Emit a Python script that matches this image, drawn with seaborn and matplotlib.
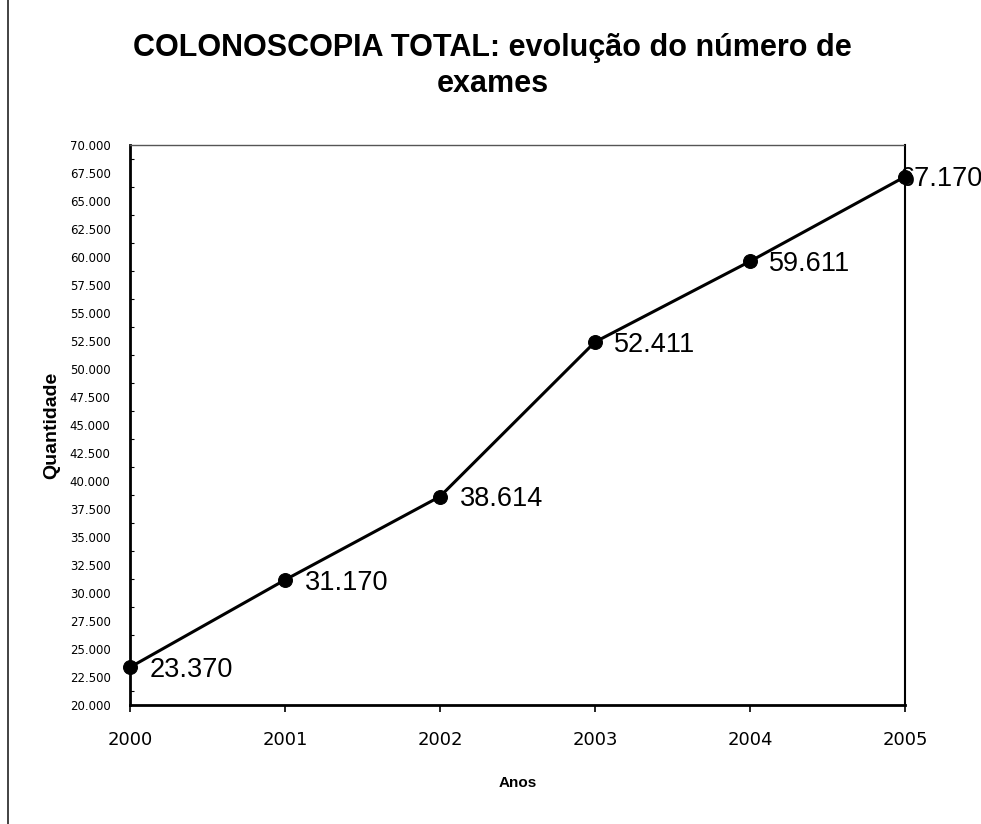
import numpy as np
import pandas as pd
import matplotlib
matplotlib.use("Agg")
import matplotlib.pyplot as plt
import seaborn as sns
from matplotlib.lines import Line2D
from matplotlib.ticker import FuncFormatter, MultipleLocator

# ── data ────────────────────────────────────
ANOS = [2000, 2001, 2002, 2003, 2004, 2005]
EXAMES = [23370, 31170, 38614, 52411, 59611, 67170]

TITULO = "COLONOSCOPIA TOTAL: evolução do número de\nexames"
X_LABEL = "Anos"
Y_LABEL = "Quantidade"


def pt_br(v):
    """23370 -> '23.370'"""
    return f"{int(v):,}".replace(",", ".")


df = pd.DataFrame({"ano": ANOS, "exames": EXAMES})

# ── style ───────────────────────────────────
sns.set_style("white")
plt.rcParams["font.family"] = ["Liberation Sans", "DejaVu Sans"]
plt.rcParams["text.color"] = "black"
plt.rcParams["axes.labelcolor"] = "black"
plt.rcParams["xtick.color"] = "black"
plt.rcParams["ytick.color"] = "black"

fig = plt.figure(figsize=(9.81, 8.24), dpi=100)
ax = fig.add_axes([0.1325, 0.1444, 0.79, 0.6796])

sns.lineplot(
    data=df, x="ano", y="exames", ax=ax,
    color="black", linewidth=2.2,
    marker="o", markersize=10, markeredgecolor="black",
    zorder=3, clip_on=False,
)

# data labels (the last one sits under its marker, as in the original)
for i, (x, y) in enumerate(zip(ANOS, EXAMES)):
    dx = 14 if i < len(ANOS) - 1 else -4
    ax.annotate(
        pt_br(y), (x, y), xytext=(dx, -2), textcoords="offset points",
        ha="left", va="center", fontsize=19.5, color="black",
        zorder=2, annotation_clip=False,
    )

ax.set_xlim(2000, 2005)
ax.set_ylim(20000, 70000)
ax.set_xticks(ANOS)
ax.xaxis.set_major_formatter(FuncFormatter(lambda v, _: f"{int(v)}"))
ax.yaxis.set_major_locator(MultipleLocator(2500))
ax.yaxis.set_minor_locator(MultipleLocator(1250))
ax.yaxis.set_major_formatter(FuncFormatter(lambda v, _: pt_br(v)))

for lbl in ax.get_xticklabels():
    lbl.set_family("DejaVu Sans")
    lbl.set_fontsize(13)
for lbl in ax.get_yticklabels():
    lbl.set_family("DejaVu Sans")
    lbl.set_fontsize(8.5)

ax.tick_params(axis="y", which="major", direction="inout", length=6, width=1.2, pad=11)
ax.tick_params(axis="y", which="minor", direction="in", length=3, width=0.8, left=True)
ax.tick_params(axis="x", which="major", direction="out", length=5, width=1.2, pad=14, bottom=True)

for side in ["left", "bottom"]:
    ax.spines[side].set_color("black")
    ax.spines[side].set_linewidth(2)
ax.spines["right"].set_color("black")
ax.spines["right"].set_linewidth(1.5)
ax.spines["top"].set_color("#555555")
ax.spines["top"].set_linewidth(1)
ax.spines["top"].set_linestyle((0, (2, 1)))

ax.set_xlabel(X_LABEL, fontsize=11, fontweight="bold", labelpad=19)
ax.set_ylabel(Y_LABEL, fontsize=14, fontweight="bold", labelpad=7)

fig.text(0.502, 0.96, TITULO, ha="center", va="top", fontsize=22,
         fontweight="bold", linespacing=1.25)

# scanned page edge on the left
fig.add_artist(Line2D([8 / 981, 8 / 981], [0, 1], transform=fig.transFigure,
                      color="#222222", linewidth=1.2))

fig.savefig("out.png", dpi=100, facecolor="white")
